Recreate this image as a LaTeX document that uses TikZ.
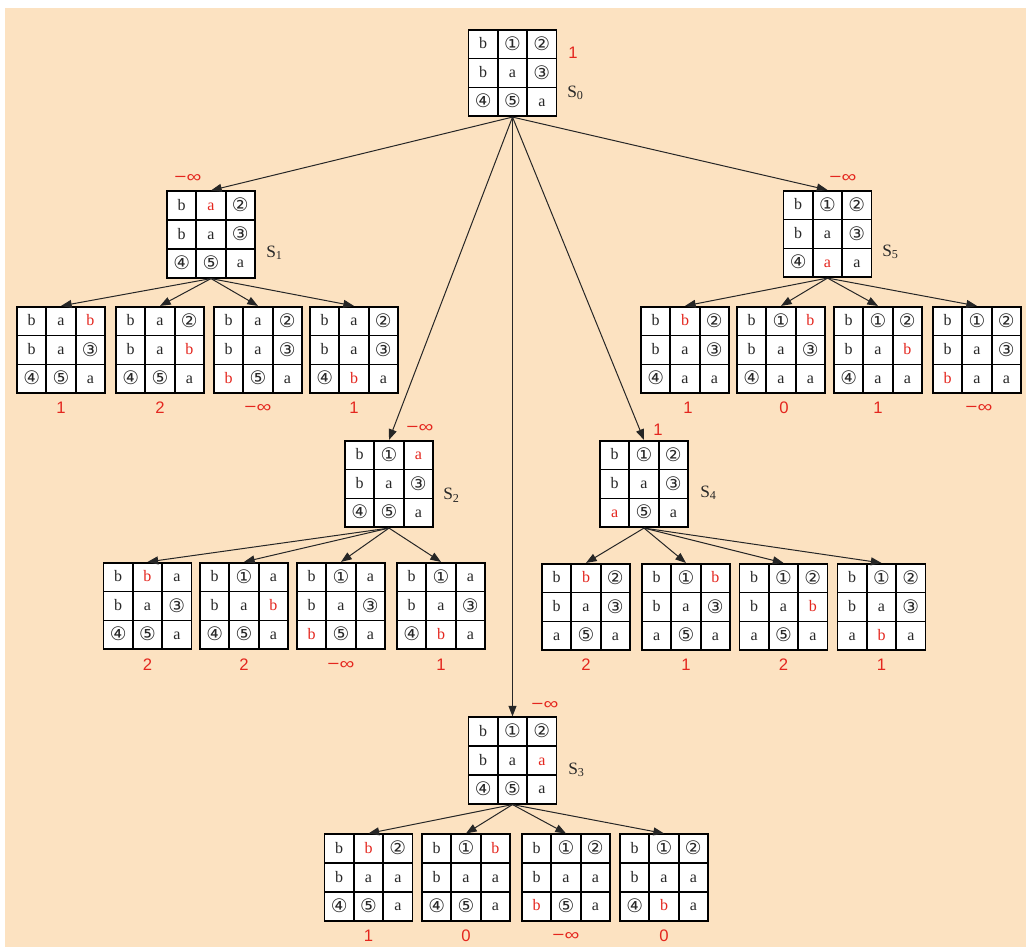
\documentclass[tikz,border=0pt]{standalone}
\usepackage{fontspec}
\setmainfont{Liberation Serif}
\newfontfamily\circf{DejaVu Sans}
\newfontfamily\valf{Liberation Sans}
\usetikzlibrary{matrix,arrows.meta}
\definecolor{peach}{RGB}{252,226,193}
\definecolor{redv}{RGB}{228,38,30}
\definecolor{ink}{RGB}{40,40,40}
\newcommand\rd[1]{\textcolor{redv}{#1}}
\newcommand\circd[1]{\raisebox{-1pt}{\circf\fontsize{14}{14}\selectfont #1}}
\newcommand\qone{\circd{①}}
\newcommand\qtwo{\circd{②}}
\newcommand\qthree{\circd{③}}
\newcommand\qfour{\circd{④}}
\newcommand\qfive{\circd{⑤}}
\newcommand\ninf{\scalebox{1.25}[1]{−∞}}
\tikzset{
  cell/.style={draw=black, line width=1.3pt, fill=white, minimum width=22pt,
    minimum height=21.6pt, inner sep=0pt, text=ink, anchor=center,
    font=\fontsize{12}{12}\selectfont, text height=8pt, text depth=1pt},
  board/.style={matrix of nodes, inner sep=0pt, outer sep=0pt,
    column sep=-1.3pt, row sep=-1.3pt, nodes={cell}},
  conn/.style={-{Triangle[length=8pt,width=6pt]}, line width=0.75pt, draw=black!85},
  val/.style={text=redv, font=\valf\fontsize{12.5}{12.5}\selectfont, inner sep=0pt},
  slab/.style={font=\fontsize{13}{13}\selectfont, text=ink, anchor=west, inner sep=0pt},
}
\begin{document}
\begin{tikzpicture}[x=0.75pt,y=-0.75pt]
\fill[white] (0,0) rectangle (1026,947);
\fill[peach] (5,8) rectangle (1026,947);
\useasboundingbox (0,0) rectangle (1026,947);

% ---------- root ----------
\matrix (s0) [board] at (512.5,73) {
  b & \qone & \qtwo \\ b & a & \qthree \\ \qfour & \qfive & a \\ };
\node[val] (v0) at (573,53) {1};
\node[slab] (l0) at (567,93) {S\textsubscript{0}};

% ---------- S1 ----------
\matrix (s1) [board] at (211,234.5) {
  b & \rd{a} & \qtwo \\ b & a & \qthree \\ \qfour & \qfive & a \\ };
\node[val] (v1) at (188,178) {\ninf};
\node[slab] (l1) at (266,253) {S\textsubscript{1}};

\matrix (s11) [board] at (61,350) {
  b & a & \rd{b} \\ b & a & \qthree \\ \qfour & \qfive & a \\ };
\matrix (s12) [board] at (160,350) {
  b & a & \qtwo \\ b & a & \rd{b} \\ \qfour & \qfive & a \\ };
\matrix (s13) [board] at (258,350) {
  b & a & \qtwo \\ b & a & \qthree \\ \rd{b} & \qfive & a \\ };
\matrix (s14) [board] at (354,350) {
  b & a & \qtwo \\ b & a & \qthree \\ \qfour & \rd{b} & a \\ };
\node[val] (v11) at (61,408) {1};
\node[val] (v12) at (160,408) {2};
\node[val] (v13) at (258,408) {\ninf};
\node[val] (v14) at (354,408) {1};

% ---------- S5 ----------
\matrix (s5) [board] at (827.5,234) {
  b & \qone & \qtwo \\ b & a & \qthree \\ \qfour & \rd{a} & a \\ };
\node[val] (v5) at (843,178) {\ninf};
\node[slab] (l5) at (882,252) {S\textsubscript{5}};

\matrix (s51) [board] at (685,350) {
  b & \rd{b} & \qtwo \\ b & a & \qthree \\ \qfour & a & a \\ };
\matrix (s52) [board] at (781,350) {
  b & \qone & \rd{b} \\ b & a & \qthree \\ \qfour & a & a \\ };
\matrix (s53) [board] at (878,350) {
  b & \qone & \qtwo \\ b & a & \rd{b} \\ \qfour & a & a \\ };
\matrix (s54) [board] at (977,350) {
  b & \qone & \qtwo \\ b & a & \qthree \\ \rd{b} & a & a \\ };
\node[val] (v51) at (688,408) {1};
\node[val] (v52) at (784,408) {0};
\node[val] (v53) at (878,408) {1};
\node[val] (v54) at (979,408) {\ninf};

% ---------- S2 ----------
\matrix (s2) [board] at (389,484) {
  b & \qone & \rd{a} \\ b & a & \qthree \\ \qfour & \qfive & a \\ };
\node[val] (v2) at (420,428) {\ninf};
\node[slab] (l2) at (443,495) {S\textsubscript{2}};

\matrix (s21) [board] at (147.5,606) {
  b & \rd{b} & a \\ b & a & \qthree \\ \qfour & \qfive & a \\ };
\matrix (s22) [board] at (244,606) {
  b & \qone & a \\ b & a & \rd{b} \\ \qfour & \qfive & a \\ };
\matrix (s23) [board] at (341,606) {
  b & \qone & a \\ b & a & \qthree \\ \rd{b} & \qfive & a \\ };
\matrix (s24) [board] at (441,606) {
  b & \qone & a \\ b & a & \qthree \\ \qfour & \rd{b} & a \\ };
\node[val] (v21) at (147.5,665) {2};
\node[val] (v22) at (244,665) {2};
\node[val] (v23) at (341,665) {\ninf};
\node[val] (v24) at (441,665) {1};

% ---------- S4 ----------
\matrix (s4) [board] at (644,484) {
  b & \qone & \qtwo \\ b & a & \qthree \\ \rd{a} & \qfive & a \\ };
\node[val] (v4) at (658,430) {1};
\node[slab] (l4) at (700,493) {S\textsubscript{4}};

\matrix (s41) [board] at (586,607) {
  b & \rd{b} & \qtwo \\ b & a & \qthree \\ a & \qfive & a \\ };
\matrix (s42) [board] at (686,607) {
  b & \qone & \rd{b} \\ b & a & \qthree \\ a & \qfive & a \\ };
\matrix (s43) [board] at (783.5,607) {
  b & \qone & \qtwo \\ b & a & \rd{b} \\ a & \qfive & a \\ };
\matrix (s44) [board] at (881.5,607) {
  b & \qone & \qtwo \\ b & a & \qthree \\ a & \rd{b} & a \\ };
\node[val] (v41) at (586,665) {2};
\node[val] (v42) at (686,665) {1};
\node[val] (v43) at (783.5,665) {2};
\node[val] (v44) at (881.5,665) {1};

% ---------- S3 ----------
\matrix (s3) [board] at (512.5,760.5) {
  b & \qone & \qtwo \\ b & a & \rd{a} \\ \qfour & \qfive & a \\ };
\node[val] (v3) at (545,705) {\ninf};
\node[slab] (l3) at (568,770) {S\textsubscript{3}};

\matrix (s31) [board] at (368.5,877.5) {
  b & \rd{b} & \qtwo \\ b & a & a \\ \qfour & \qfive & a \\ };
\matrix (s32) [board] at (466,877.5) {
  b & \qone & \rd{b} \\ b & a & a \\ \qfour & \qfive & a \\ };
\matrix (s33) [board] at (566,877.5) {
  b & \qone & \qtwo \\ b & a & a \\ \rd{b} & \qfive & a \\ };
\matrix (s34) [board] at (664,877.5) {
  b & \qone & \qtwo \\ b & a & a \\ \qfour & \rd{b} & a \\ };
\node[val] (v31) at (368.5,936) {1};
\node[val] (v32) at (466,936) {0};
\node[val] (v33) at (566,936) {\ninf};
\node[val] (v34) at (664,936) {0};

% ---------- connectors ----------
\foreach \c in {s1,s2,s3,s4,s5} \draw[conn] (s0.south) -- (\c.north);
\foreach \p in {1,...,5} {
  \foreach \k in {1,...,4} \draw[conn] (s\p.south) -- (s\p\k.north);
}
\end{tikzpicture}
\end{document}
